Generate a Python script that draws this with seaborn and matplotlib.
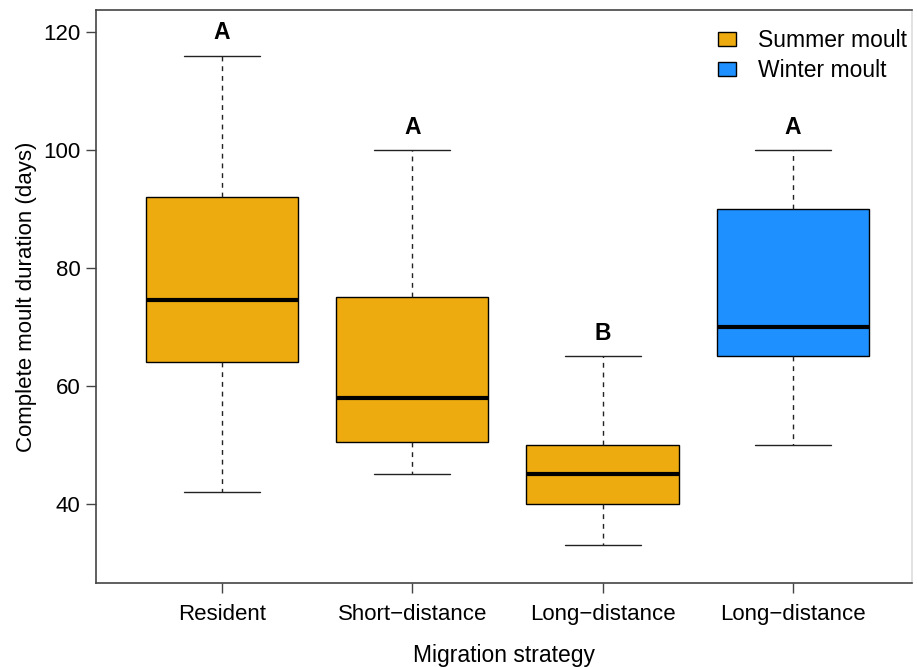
import matplotlib
matplotlib.use("Agg")
import matplotlib.pyplot as plt
import seaborn as sns
import pandas as pd
from matplotlib.patches import Patch

# ---- data (five-number summaries) ----
groups = ["g1", "g2", "g3", "g4"]
tick_labels = ["Resident", "Short\u2212distance", "Long\u2212distance", "Long\u2212distance"]
seasons = ["Summer moult", "Summer moult", "Summer moult", "Winter moult"]
whisker_low = [42, 45, 33, 50]
q1 = [64, 50.5, 40, 65]
median = [74.5, 58, 45, 70]
q3 = [92, 75, 50, 90]
whisker_high = [116, 100, 65, 100]
letters = ["A", "A", "B", "A"]

season_colors = {"Summer moult": "#EDAB0F", "Winter moult": "#1E90FF"}

rows = []
for g, s, a, b, c, d, e in zip(groups, seasons, whisker_low, q1, median, q3, whisker_high):
    for v in (a, b, c, d, e):
        rows.append({"group": g, "season": s, "value": v})
df = pd.DataFrame(rows)

sns.set_style("ticks")
plt.rcParams["font.family"] = ["Liberation Sans", "DejaVu Sans"]
plt.rcParams["text.color"] = "black"
plt.rcParams["axes.labelcolor"] = "black"

fig = plt.figure(figsize=(9.17, 6.67), dpi=100)
W, H = 917, 667
ax = fig.add_axes([96 / W, (H - 583) / H, (912 - 96) / W, (583 - 10) / H])

sns.boxplot(
    data=df, x="group", y="value", hue="season", order=groups,
    palette=season_colors, saturation=1, dodge=False, width=0.8, whis=(0, 100),
    linecolor="black", linewidth=1.0, showfliers=False, legend=False, ax=ax,
    whiskerprops={"linestyle": (0, (3.5, 3.5)), "color": "#222222", "linewidth": 1.0},
    capprops={"color": "#222222", "linewidth": 1.0},
    medianprops={"color": "black", "linewidth": 3.0},
    boxprops={"edgecolor": "black", "linewidth": 1.0},
    capwidths=0.4,
)

# letters above whiskers
for i, (top, lab) in enumerate(zip(whisker_high, letters)):
    ax.text(i, top + 1.9, lab, ha="center", va="bottom", fontsize=16.5,
            fontweight="bold", color="black")

ax.set_xlim(-0.662, 3.626)
ax.set_ylim(26.6, 123.73)
ax.set_yticks([40, 60, 80, 100, 120])
ax.set_xticks(range(len(groups)))
ax.set_xticklabels(tick_labels)
ax.tick_params(axis="both", length=7, width=1, color="#444444", labelsize=16,
               labelcolor="black", direction="out")
ax.tick_params(axis="x", pad=8)
ax.tick_params(axis="y", pad=4)
for side in ["left", "top", "bottom", "right"]:
    ax.spines[side].set_visible(True)
    ax.spines[side].set_color("#444444")
    ax.spines[side].set_linewidth(1.2)
ax.spines["right"].set_color("#dddddd")

ax.set_xlabel("Migration strategy", fontsize=16.5, labelpad=14)
ax.set_ylabel("Complete moult duration (days)", fontsize=16, labelpad=5)

handles = [Patch(facecolor=season_colors[s], edgecolor="black", linewidth=1.0, label=s)
           for s in ["Summer moult", "Winter moult"]]
leg = fig.legend(handles=handles, loc="upper left", bbox_to_anchor=(718 / W, 1 - 29 / H),
                 frameon=False, fontsize=16.5, handlelength=0.78, handleheight=0.6,
                 handletextpad=0.95, labelspacing=0.3, borderaxespad=0, borderpad=0)

fig.savefig("out.png", dpi=100)
